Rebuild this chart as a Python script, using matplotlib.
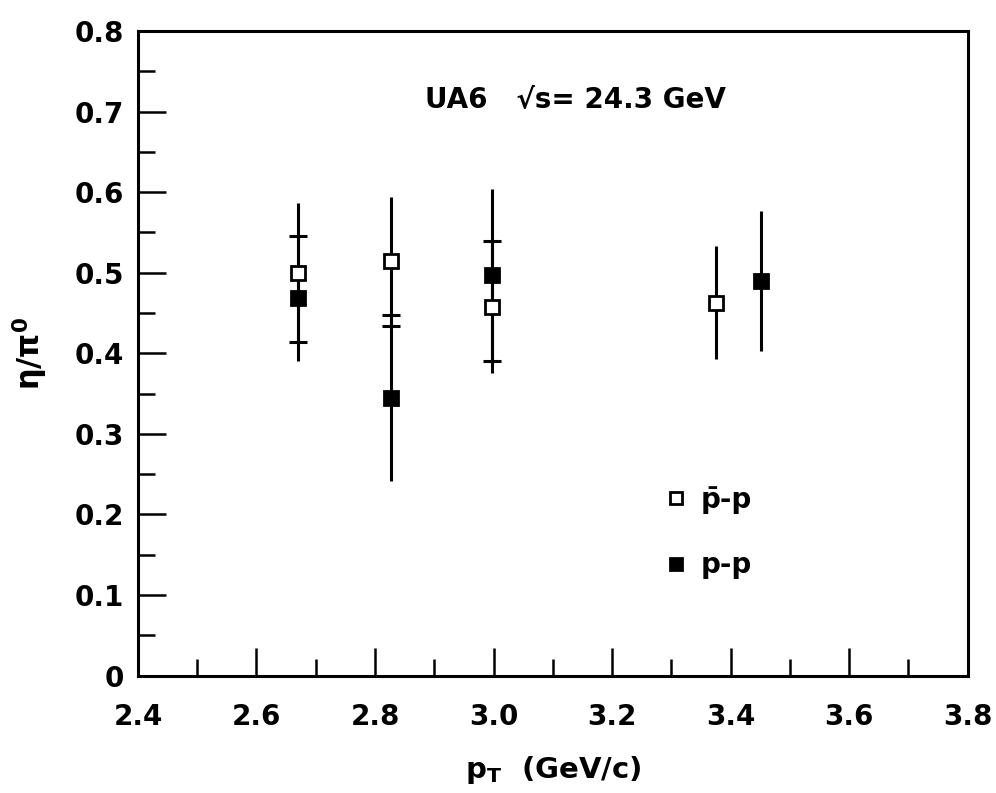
import matplotlib
matplotlib.use("Agg")
import matplotlib.pyplot as plt
from matplotlib.ticker import MultipleLocator

plt.rcParams['font.family'] = ['DejaVu Sans']
plt.rcParams['font.weight'] = 'bold'
plt.rcParams['axes.labelweight'] = 'bold'
plt.rcParams['mathtext.default'] = 'bf'

# p-bar p  (open squares)
pbar_pt = [2.67, 2.827, 2.998, 3.375]
pbar_ratio = [0.500, 0.514, 0.457, 0.463]
pbar_err = [0.086, 0.080, 0.082, 0.070]

# p p  (filled squares)
pp_pt = [2.67, 2.827, 2.998, 3.452]
pp_ratio = [0.468, 0.344, 0.497, 0.490]
pp_err = [0.077, 0.103, 0.107, 0.087]

x_ticks = [2.4, 2.6, 2.8, 3.0, 3.2, 3.4, 3.6, 3.8]
x_ticklabels = ['2.4', '2.6', '2.8', '3.0', '3.2', '3.4', '3.6', '3.8']
y_ticks = [0, 0.1, 0.2, 0.3, 0.4, 0.5, 0.6, 0.7, 0.8]
y_ticklabels = ['0', '0.1', '0.2', '0.3', '0.4', '0.5', '0.6', '0.7', '0.8']

fig = plt.figure(figsize=(9.96, 7.93), dpi=100)
ax = fig.add_axes([0.1385, 0.148, 0.833, 0.813])

series = [
    (pbar_pt, pbar_ratio, pbar_err, 'white', 'p\u0304-p'),
    (pp_pt, pp_ratio, pp_err, 'black', 'p-p'),
]

for x, y, e, face, lab in series:
    ax.errorbar(x, y, yerr=e, fmt='none', ecolor='black', elinewidth=2.2,
                capsize=0, zorder=2)

# small caps only where a bar end falls inside the other bar at the same pT
for k, (x, y, e, face, lab) in enumerate(series):
    ox, oy, oe = series[1 - k][0], series[1 - k][1], series[1 - k][2]
    for xi, yi, ei in zip(x, y, e):
        for end in (yi - ei, yi + ei):
            for xj, yj, ej in zip(ox, oy, oe):
                if abs(xi - xj) < 1e-6 and yj - ej < end < yj + ej:
                    ax.plot([xi], [end], marker='_', ms=13, mew=2.2,
                            color='black', zorder=2)

for x, y, e, face, lab in series:
    ax.plot(x, y, ls='none', marker='s', ms=10.5, mfc=face, mec='black',
            mew=2.0, zorder=3, label=lab)

ax.set_xlim(2.4, 3.8)
ax.set_ylim(0, 0.8)
ax.set_xticks(x_ticks)
ax.set_xticklabels(x_ticklabels)
ax.set_yticks(y_ticks)
ax.set_yticklabels(y_ticklabels)
ax.xaxis.set_minor_locator(MultipleLocator(0.1))
ax.yaxis.set_minor_locator(MultipleLocator(0.05))

ax.tick_params(which='both', direction='in', top=False, right=False,
               width=1.8, labelsize=20)
ax.tick_params(axis='x', pad=20)
ax.tick_params(axis='y', pad=10)
ax.tick_params(which='major', length=20)
ax.tick_params(which='minor', length=12)
for s in ax.spines.values():
    s.set_linewidth(2.2)

ax.set_xlabel(r'p$_{\mathbf{T}}$  (GeV/c)', fontsize=21, labelpad=16)
ax.set_ylabel(r'η/π$^{\mathbf{0}}$', fontsize=22, labelpad=18)

ax.text(0.527, 0.893, 'UA6   \u221as= 24.3 GeV', transform=ax.transAxes,
        ha='center', va='center', fontsize=20)

leg = ax.legend(loc='center left', bbox_to_anchor=(0.598, 0.222), frameon=False,
                fontsize=20, handletextpad=0.3, labelspacing=1.35,
                markerscale=0.8, handlelength=1.2)

fig.savefig('out.png', dpi=100)
